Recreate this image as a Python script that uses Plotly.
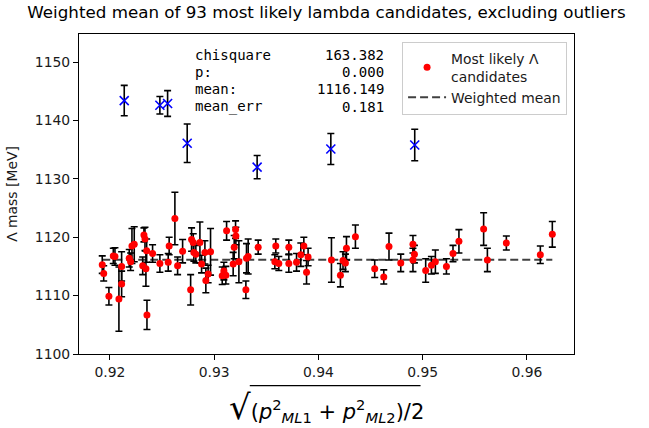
import plotly.graph_objects as go

# Most likely Lambda candidates (kept after outlier rejection)
p_rms = [0.91926, 0.91940, 0.91990, 0.92032, 0.92048, 0.92086, 0.92112, 0.92112, 0.92185, 0.92198,
         0.92211, 0.92233, 0.92314, 0.92326, 0.92336, 0.92345, 0.92352, 0.92355, 0.92409, 0.92479,
         0.92559, 0.92568, 0.92623, 0.92649, 0.92697, 0.92774, 0.92783, 0.92799, 0.92805, 0.92824,
         0.92863, 0.92879, 0.92911, 0.92920, 0.92942, 0.92965, 0.93077, 0.93093, 0.93112, 0.93119,
         0.93182, 0.93192, 0.93205, 0.93208, 0.93237, 0.93304, 0.93310, 0.93326, 0.93422, 0.93582,
         0.93591, 0.93620, 0.93716, 0.93716, 0.93790, 0.93831, 0.93860, 0.93886, 0.93901, 0.94125,
         0.94211, 0.94236, 0.94259, 0.94269, 0.94355, 0.94540, 0.94627, 0.94677, 0.94790, 0.94907,
         0.94921, 0.94907, 0.95029, 0.95084, 0.95122, 0.95228, 0.95291, 0.95348, 0.95585, 0.95621,
         0.95803, 0.96129, 0.96244]
lambda_mass = [1115.3, 1113.8, 1109.9, 1116.8, 1116.7, 1109.4, 1115.0, 1112.0, 1116.4, 1115.8,
               1118.5, 1118.8, 1115.1, 1120.4, 1119.7, 1114.6, 1117.7, 1106.7, 1117.2, 1115.5,
               1115.7, 1118.5, 1123.2, 1115.1, 1117.6, 1111.0, 1119.6, 1119.1, 1117.4, 1117.1,
               1119.1, 1115.4, 1117.4, 1112.6, 1113.7, 1117.5, 1113.4, 1114.2, 1113.5, 1121.1,
               1115.4, 1118.3, 1121.3, 1120.2, 1115.8, 1111.0, 1116.4, 1116.7, 1118.3, 1115.8,
               1118.5, 1115.5, 1118.3, 1115.5, 1115.7, 1117.0, 1118.5, 1114.0, 1116.6, 1116.1,
               1113.5, 1116.0, 1115.6, 1118.1, 1120.1, 1114.6, 1113.2, 1118.4, 1115.6, 1118.8,
               1117.1, 1116.1, 1114.3, 1115.2, 1115.8, 1115.0, 1117.2, 1119.3, 1121.4, 1116.1,
               1119.0, 1117.0, 1120.5]
lambda_err = [1.5, 1.3, 1.5, 1.3, 1.5, 5.5, 2.5, 2.2, 1.5, 1.5,
              3.0, 3.0, 1.5, 1.2, 2.0, 3.0, 2.0, 2.5, 1.5, 1.5,
              1.5, 1.5, 4.5, 1.5, 2.0, 2.6, 2.0, 1.5, 1.5, 1.5,
              3.5, 1.5, 2.0, 2.1, 1.5, 4.0, 1.5, 1.5, 1.5, 1.6,
              2.0, 2.0, 1.5, 1.5, 3.6, 1.5, 2.5, 3.0, 1.2, 1.2,
              1.2, 1.2, 1.2, 1.5, 1.5, 2.0, 1.5, 2.0, 1.5, 3.8,
              2.0, 1.5, 1.5, 2.0, 2.0, 1.5, 1.2, 2.3, 1.5, 1.5,
              1.5, 2.0, 2.0, 1.5, 2.0, 1.3, 1.4, 2.0, 2.8, 2.0,
              1.2, 1.5, 2.2]

# Rejected outliers
out_p_rms = [0.92137, 0.92479, 0.92553, 0.92741, 0.93412, 0.94119, 0.94924]
out_mass = [1143.4, 1142.6, 1142.9, 1136.1, 1132.0, 1135.1, 1135.8]
out_err = [2.6, 1.5, 2.2, 3.3, 2.0, 2.65, 2.7]

# Fit summary
chisquare = 163.382
p_value = 0.000
weighted_mean = 1116.149
mean_err = 0.181

x_ticks = [0.92, 0.93, 0.94, 0.95, 0.96]
y_ticks = [1100, 1110, 1120, 1130, 1140, 1150]

FONT = "DejaVu Sans"
MONO = "DejaVu Sans Mono"

fig = go.Figure()

fig.add_trace(go.Scatter(
    x=out_p_rms, y=out_mass, mode="markers", showlegend=False,
    marker=dict(symbol="x-thin", size=9, line=dict(color="#0000ff", width=1.6)),
    error_y=dict(type="data", array=out_err, color="black", thickness=1.6, width=3.5),
))

fig.add_trace(go.Scatter(
    x=[min(p_rms), max(p_rms)], y=[weighted_mean, weighted_mean],
    mode="lines", name="Weighted mean", legendrank=2,
    line=dict(color="rgba(0,0,0,0.75)", width=2, dash="8px,4px"),
))

fig.add_trace(go.Scatter(
    x=p_rms, y=lambda_mass, mode="markers", name="Most likely Λ<br>candidates", legendrank=1,
    marker=dict(color="#ff0000", size=7),
    error_y=dict(type="data", array=lambda_err, color="black", thickness=1.6, width=3.5),
))

# Fit summary block (labels left, values right-aligned)
labels = ["chisquare", "p:", "mean:", "mean_err"]
values = [f"{chisquare:.3f}", f"{p_value:.3f}", f"{weighted_mean:.3f}", f"{mean_err:.3f}"]
rows_y = [0.9345, 0.8815, 0.828, 0.773]
for lab, val, yy in zip(labels, values, rows_y):
    fig.add_annotation(x=0.230, y=yy, xref="paper", yref="paper", text=lab, showarrow=False,
                       xanchor="left", yanchor="middle", font=dict(family=MONO, size=14, color="black"))
    fig.add_annotation(x=0.621, y=yy, xref="paper", yref="paper", text=val, showarrow=False,
                       xanchor="right", yanchor="middle", font=dict(family=MONO, size=14, color="black"))

# x-axis label: sqrt((p_ML1^2 + p_ML2^2)/2)
fig.add_annotation(
    x=0.5, y=-0.165, xref="paper", yref="paper", showarrow=False, xanchor="center", yanchor="middle",
    text=("<span style='font-size:34px'>√</span>(<i>p</i><sup>2</sup><sub><i>ML</i>1</sub> + "
          "<i>p</i><sup>2</sup><sub><i>ML</i>2</sub>)/2"),
    font=dict(family=FONT, size=21, color="black"),
)
fig.add_shape(type="line", xref="paper", yref="paper", x0=0.345, x1=0.69, y0=-0.099, y1=-0.099,
              line=dict(color="black", width=1.2))

fig.update_layout(
    width=649, height=428,
    margin=dict(l=79, r=74.5, t=34, b=73.5),
    paper_bgcolor="white", plot_bgcolor="white",
    font=dict(family=FONT, size=14, color="#1a1a1a"),
    title=dict(text="Weighted mean of 93 most likely lambda candidates, excluding outliers",
               x=0.5, xref="paper", xanchor="center", y=0.972, yref="container", yanchor="middle",
               font=dict(family=FONT, size=16.7, color="black")),
    xaxis=dict(range=[0.91703, 0.96452], tickvals=x_ticks, ticktext=[f"{t:.2f}" for t in x_ticks],
               showgrid=False, zeroline=False, showline=True, mirror=True, linecolor="black", linewidth=1,
               ticks="outside", ticklen=5, tickwidth=1, tickcolor="black",
               tickfont=dict(family=FONT, size=13.9, color="#1a1a1a")),
    yaxis=dict(range=[1100, 1154.8], tickvals=y_ticks,
               showgrid=False, zeroline=False, showline=True, mirror=True, linecolor="black", linewidth=1,
               ticks="outside", ticklen=5, tickwidth=1, tickcolor="black",
               tickfont=dict(family=FONT, size=13.9, color="#1a1a1a"),
               title=dict(text="Λ mass [MeV]", standoff=13, font=dict(family=FONT, size=13.9, color="#1a1a1a"))),
    legend=dict(x=0.986, y=0.976, xref="paper", yref="paper", xanchor="right", yanchor="top",
                bgcolor="rgba(255,255,255,0.8)", bordercolor="#cccccc", borderwidth=1, itemwidth=38,
                font=dict(family=FONT, size=13.9, color="#1a1a1a"), tracegroupgap=4),
)

fig.write_html("out.html")
